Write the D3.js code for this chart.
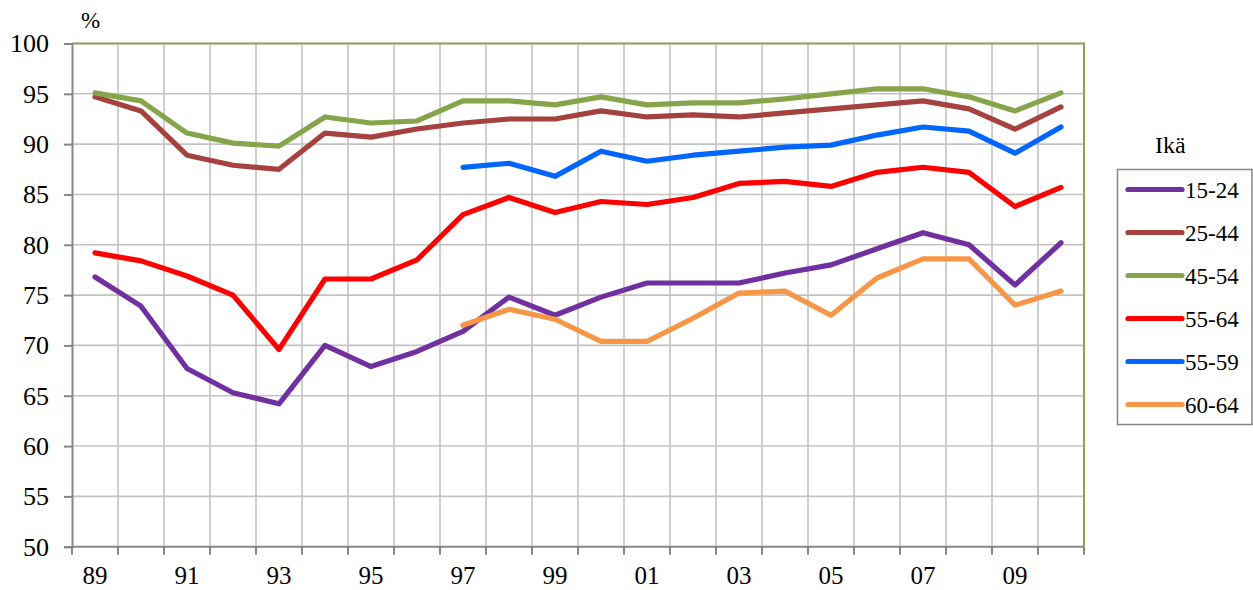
<!DOCTYPE html>
<html>
<head>
<meta charset="utf-8">
<script src="https://cdnjs.cloudflare.com/ajax/libs/d3/7.8.5/d3.min.js"></script>
<style>
  body { margin: 0; background: #fff; }
  #chart text { font-family: "Liberation Serif", "Times New Roman", Times, serif; fill: #000; }
</style>
</head>
<body>
<svg id="chart" width="1253" height="590"></svg>
<script>
// Years on the x axis (only every other one gets a label)
const years = d3.range(1989, 2011);
const tick_labels = ["89", "91", "93", "95", "97", "99", "01", "03", "05", "07", "09"];
const y_ticks = [50, 55, 60, 65, 70, 75, 80, 85, 90, 95, 100];

// Series values (null = no data)
const age_15_24 = [76.8, 73.9, 67.7, 65.3, 64.2, 70.0, 67.9, 69.4, 71.4, 74.8, 73.0, 74.8, 76.2, 76.2, 76.2, 77.2, 78.0, 79.6, 81.2, 80.0, 76.0, 80.2];
const age_25_44 = [94.7, 93.3, 88.9, 87.9, 87.5, 91.1, 90.7, 91.5, 92.1, 92.5, 92.5, 93.3, 92.7, 92.9, 92.7, 93.1, 93.5, 93.9, 94.3, 93.5, 91.5, 93.7];
const age_45_54 = [95.1, 94.3, 91.1, 90.1, 89.8, 92.7, 92.1, 92.3, 94.3, 94.3, 93.9, 94.7, 93.9, 94.1, 94.1, 94.5, 95.0, 95.5, 95.5, 94.7, 93.3, 95.1];
const age_55_64 = [79.2, 78.4, 76.9, 75.0, 69.6, 76.6, 76.6, 78.5, 83.0, 84.7, 83.2, 84.3, 84.0, 84.7, 86.1, 86.3, 85.8, 87.2, 87.7, 87.2, 83.8, 85.7];
const age_55_59 = [null, null, null, null, null, null, null, null, 87.7, 88.1, 86.8, 89.3, 88.3, 88.9, 89.3, 89.7, 89.9, 90.9, 91.7, 91.3, 89.1, 91.7];
const age_60_64 = [null, null, null, null, null, null, null, null, 72.0, 73.6, 72.6, 70.4, 70.4, 72.7, 75.2, 75.4, 73.0, 76.7, 78.6, 78.6, 74.0, 75.4];

const series_names = ["15-24", "25-44", "45-54", "55-64", "55-59", "60-64"];
const series_values = [age_15_24, age_25_44, age_45_54, age_55_64, age_55_59, age_60_64];
const series_colors = ["#7030a0", "#a5423f", "#86a44a", "#ff0000", "#0066ff", "#f79646"];

const svg = d3.select("#chart");

const plot = {left: 72, right: 1084, top: 43.5, bottom: 546.7};

// point scale with half a step padding so the points sit in the middle of each "band"
const x = d3.scalePoint()
  .domain(years)
  .range([plot.left, plot.right])
  .padding(0.5);
const step = x.step();

const y = d3.scaleLinear()
  .domain([50, 100])
  .range([plot.bottom, plot.top]);

// Gridlines
const grid = svg.append("g");
grid.selectAll(".hgrid")
  .data(y_ticks.slice(1))
  .join("line")
  .attr("x1", plot.left)
  .attr("x2", plot.right)
  .attr("y1", d => y(d))
  .attr("y2", d => y(d))
  .attr("stroke", "#c3c3c3")
  .attr("stroke-width", 1.6);

grid.selectAll(".vgrid")
  .data(years.slice(1))
  .join("line")
  .attr("x1", d => x(d) - step / 2)
  .attr("x2", d => x(d) - step / 2)
  .attr("y1", plot.top)
  .attr("y2", plot.bottom)
  .attr("stroke", "#c3c3c3")
  .attr("stroke-width", 1.6);

// Green border on top and right
svg.append("path")
  .attr("d", `M${plot.left},${plot.top}H${plot.right}V${plot.bottom}`)
  .attr("fill", "none")
  .attr("stroke", "#8aa55a")
  .attr("stroke-width", 2);

// Y axis
const yAxis = svg.append("g")
  .attr("transform", `translate(${plot.left},0)`)
  .call(d3.axisLeft(y).tickValues(y_ticks).tickSize(8).tickPadding(15));
yAxis.attr("font-family", null);
yAxis.select(".domain").attr("stroke", "#868686").attr("stroke-width", 2);
yAxis.selectAll(".tick line").attr("stroke", "#868686").attr("stroke-width", 2);
yAxis.selectAll(".tick text")
  .attr("font-size", 26)
  .attr("fill", "#000");

// X axis: ticks at the band edges, labels every second year in the middle
const edges = d3.range(years.length + 1).map(i => plot.left + i * step);
const xAxis = svg.append("g");
xAxis.append("line")
  .attr("x1", plot.left).attr("x2", plot.right)
  .attr("y1", plot.bottom).attr("y2", plot.bottom)
  .attr("stroke", "#868686").attr("stroke-width", 2);
xAxis.selectAll(".xtick")
  .data(edges)
  .join("line")
  .attr("x1", d => d).attr("x2", d => d)
  .attr("y1", plot.bottom).attr("y2", plot.bottom + 8)
  .attr("stroke", "#868686").attr("stroke-width", 2);
xAxis.selectAll(".xlabel")
  .data(tick_labels)
  .join("text")
  .attr("x", (d, i) => x(years[i * 2]))
  .attr("y", 584)
  .attr("text-anchor", "middle")
  .attr("font-size", 25)
  .text(d => d);

// Unit label
svg.append("text")
  .attr("x", 81)
  .attr("y", 28)
  .attr("font-size", 23)
  .text("%");

// Lines
const line = d3.line()
  .defined(d => d[1] != null)
  .x(d => x(d[0]))
  .y(d => y(d[1]));

series_values.forEach((vals, i) => {
  svg.append("path")
    .datum(years.map((yr, j) => [yr, vals[j]]))
    .attr("fill", "none")
    .attr("stroke", series_colors[i])
    .attr("stroke-width", 5.2)
    .attr("stroke-linejoin", "round")
    .attr("stroke-linecap", "round")
    .attr("d", line);
});

// Legend
svg.append("text")
  .attr("x", 1155)
  .attr("y", 153)
  .attr("font-size", 24)
  .text("Ikä");

svg.append("rect")
  .attr("x", 1117.5)
  .attr("y", 169.5)
  .attr("width", 134.5)
  .attr("height", 255)
  .attr("fill", "#fff")
  .attr("stroke", "#868686")
  .attr("stroke-width", 1.5);

const legend = svg.selectAll(".legend")
  .data(series_names)
  .join("g")
  .attr("transform", (d, i) => `translate(1128,${189.5 + i * 43})`);
legend.append("line")
  .attr("x1", 0).attr("x2", 54)
  .attr("stroke", (d, i) => series_colors[i])
  .attr("stroke-width", 5.2)
  .attr("stroke-linecap", "round");
legend.append("text")
  .attr("x", 57)
  .attr("y", 8)
  .attr("font-size", 23)
  .text(d => d);
</script>
</body>
</html>
